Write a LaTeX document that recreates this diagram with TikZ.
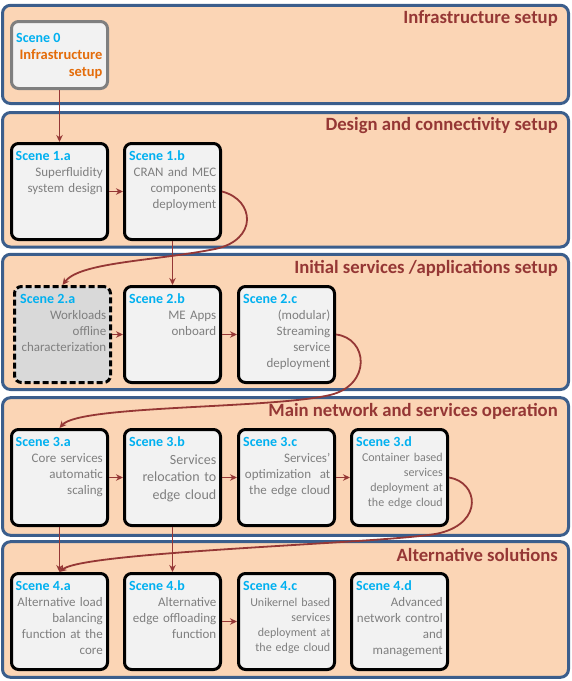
\documentclass[tikz,border=0pt]{standalone}
\usepackage{fontspec}
\setmainfont{Carlito}
\usetikzlibrary{arrows.meta,calc}
\definecolor{panelfill}{HTML}{FBD5B5}
\definecolor{panelline}{HTML}{3B5E8C}
\definecolor{titlered}{HTML}{953735}
\definecolor{sceneblue}{HTML}{00B0F0}
\definecolor{bodygray}{HTML}{7F7F7F}
\definecolor{orangetxt}{HTML}{E46C0A}
\definecolor{boxfill}{HTML}{F2F2F2}
\definecolor{darkfill}{HTML}{D9D9D9}
\definecolor{arrowred}{HTML}{953735}
\begin{document}
\begin{tikzpicture}[x=1pt,y=-1pt,
 panel/.style={draw=panelline, fill=panelfill, line width=3pt, rounded corners=8pt},
 ptitle/.style={font=\fontsize{18.7}{22}\selectfont\bfseries, text=titlered, inner sep=0pt, anchor=base east},
 scenebox/.style={draw=black, fill=boxfill, line width=3pt, rounded corners=7pt, minimum width=96pt, minimum height=96pt, inner sep=0pt, anchor=north west},
 lbl/.style={font=\fontsize{14}{16}\selectfont\bfseries, text=sceneblue, inner sep=0pt, anchor=base west},
 body/.style={font=\fontsize{13}{16}\selectfont, text=bodygray, inner sep=0pt, anchor=base east, text width=120pt, align=right},
 bodybig/.style={body, font=\fontsize{14}{17.5}\selectfont},
 bodysmall/.style={body, font=\fontsize{12}{15}\selectfont},
 flow/.style={draw=arrowred, line width=1.8pt, -{Stealth[length=7pt,width=6.5pt]}},
]
\useasboundingbox (0,0) rectangle (572,681);

% panels
\draw[panel] (2.5,5.3) rectangle (568.5,103.5);
\draw[panel] (2.5,112.5) rectangle (568.5,247);
\draw[panel] (2.5,254.3) rectangle (568.5,389.5);
\draw[panel] (2.5,397.7) rectangle (568.5,535.3);
\draw[panel] (2.5,541.7) rectangle (568.5,677.3);

% titles
\node[ptitle] (t1) at (558,23.5) {Infrastructure setup};
\node[ptitle] (t2) at (558,130.5) {Design and connectivity setup};
\node[ptitle] (t3) at (558,273) {Initial services /applications setup};
\node[ptitle] (t4) at (558,416) {Main network and services operation};
\node[ptitle] (t5) at (558,561) {Alternative solutions};

% scene 0
\node[scenebox, draw=bodygray, minimum height=67pt] (s0) at (10,20) {};
\node[lbl] (s0-l) at ($(s0.north west)+(6,22.5)$) {Scene 0};
\node[body, font=\fontsize{14.5}{17}\selectfont\bfseries, text=orangetxt] (s0-t) at ($(s0.north east)+(-6.3,39)$) {Infrastructure\\setup};

% row 1
\node[scenebox] (s1a) at (10,142) {};
\node[lbl] (s1a-l) at ($(s1a.north west)+(5.5,18.7)$) {Scene 1.a};
\node[body] (s1a-t) at ($(s1a.north east)+(-6,34)$) {Superfluidity\\system design};
\node[scenebox] (s1b) at (123,142) {};
\node[lbl] (s1b-l) at ($(s1b.north west)+(6,18.7)$) {Scene 1.b};
\node[body] (s1b-t) at ($(s1b.north east)+(-5.5,34)$) {CRAN and MEC\\components\\deployment};

% row 2
\node[scenebox, fill=darkfill, dash pattern=on 6pt off 3pt] (s2a) at (13,285) {};
\node[lbl] (s2a-l) at ($(s2a.north west)+(7,18.7)$) {Scene 2.a};
\node[body] (s2a-t) at ($(s2a.north east)+(-5.5,34)$) {Workloads\\offline\\characterization};
\node[scenebox] (s2b) at (123,285) {};
\node[lbl] (s2b-l) at ($(s2b.north west)+(6,18.7)$) {Scene 2.b};
\node[body] (s2b-t) at ($(s2b.north east)+(-5.5,34)$) {ME Apps\\onboard};
\node[scenebox] (s2c) at (237,285) {};
\node[lbl] (s2c-l) at ($(s2c.north west)+(6,18.7)$) {Scene 2.c};
\node[body] (s2c-t) at ($(s2c.north east)+(-5.5,34)$) {(modular)\\Streaming\\service\\deployment};

% row 3
\node[scenebox] (s3a) at (10,428) {};
\node[lbl] (s3a-l) at ($(s3a.north west)+(5.5,18.7)$) {Scene 3.a};
\node[body] (s3a-t) at ($(s3a.north east)+(-6,34.5)$) {Core services\\automatic\\scaling};
\node[scenebox] (s3b) at (123,428) {};
\node[lbl] (s3b-l) at ($(s3b.north west)+(6,18.7)$) {Scene 3.b};
\node[bodybig] (s3b-t) at ($(s3b.north east)+(-5.5,36)$) {Services\\relocation to\\edge cloud};
\node[scenebox] (s3c) at (237,428) {};
\node[lbl] (s3c-l) at ($(s3c.north west)+(6,18.7)$) {Scene 3.c};
\node[body] (s3c-t) at ($(s3c.north east)+(-5.5,34.5)$) {Services’\\optimization\ \ at\\the edge cloud};
\node[scenebox] (s3d) at (350,428) {};
\node[lbl] (s3d-l) at ($(s3d.north west)+(6,18.7)$) {Scene 3.d};
\node[bodysmall] (s3d-t) at ($(s3d.north east)+(-6,33.5)$) {Container based\\services\\deployment at\\the edge cloud};

% row 4
\node[scenebox] (s4a) at (10,572) {};
\node[lbl] (s4a-l) at ($(s4a.north west)+(5.5,18.7)$) {Scene 4.a};
\node[body] (s4a-t) at ($(s4a.north east)+(-6,34.5)$) {Alternative load\\balancing\\function at the\\core};
\node[scenebox] (s4b) at (123,572) {};
\node[lbl] (s4b-l) at ($(s4b.north west)+(6,18.7)$) {Scene 4.b};
\node[body] (s4b-t) at ($(s4b.north east)+(-5.5,34.5)$) {Alternative\\edge offloading\\function};
\node[scenebox] (s4c) at (237,572) {};
\node[lbl] (s4c-l) at ($(s4c.north west)+(6,18.7)$) {Scene 4.c};
\node[bodysmall] (s4c-t) at ($(s4c.north east)+(-5.5,34)$) {Unikernel based\\services\\deployment at\\the edge cloud};
\node[scenebox] (s4d) at (350,572) {};
\node[lbl] (s4d-l) at ($(s4d.north west)+(6,18.7)$) {Scene 4.d};
\node[body] (s4d-t) at ($(s4d.north east)+(-6,34.5)$) {Advanced\\network control\\and\\management};

% connectors
\draw[flow] (s0) -- (s1a);
\draw[flow] (s1a) -- (s1b);
\draw[flow] (s1b) -- (s2b);
\draw[flow] (s1b.east) .. controls (255,200) and (258,240) .. (215,249) .. controls (155,261) and (80,262) .. (s2a.north);
\draw[flow] (s2a) -- (s2b);
\draw[flow] (s2b) -- (s2c);
\draw[flow] (s2c.east) .. controls (368,338) and (372,385) .. (330,395) .. controls (270,409) and (80,405) .. (s3a.north);
\draw[flow] (s3a) -- (s3b);
\draw[flow] (s3b) -- (s3c);
\draw[flow] (s3c) -- (s3d);
\draw[flow] (s3d.east) .. controls (478,482) and (484,522) .. (440,533) .. controls (400,543) and (85,551) .. (s4a.north);
\draw[flow] (s3a) -- (s4a);
\draw[flow] (s3b) -- (s4b);
\draw[flow] (s4b) -- (s4c);
\end{tikzpicture}
\end{document}
